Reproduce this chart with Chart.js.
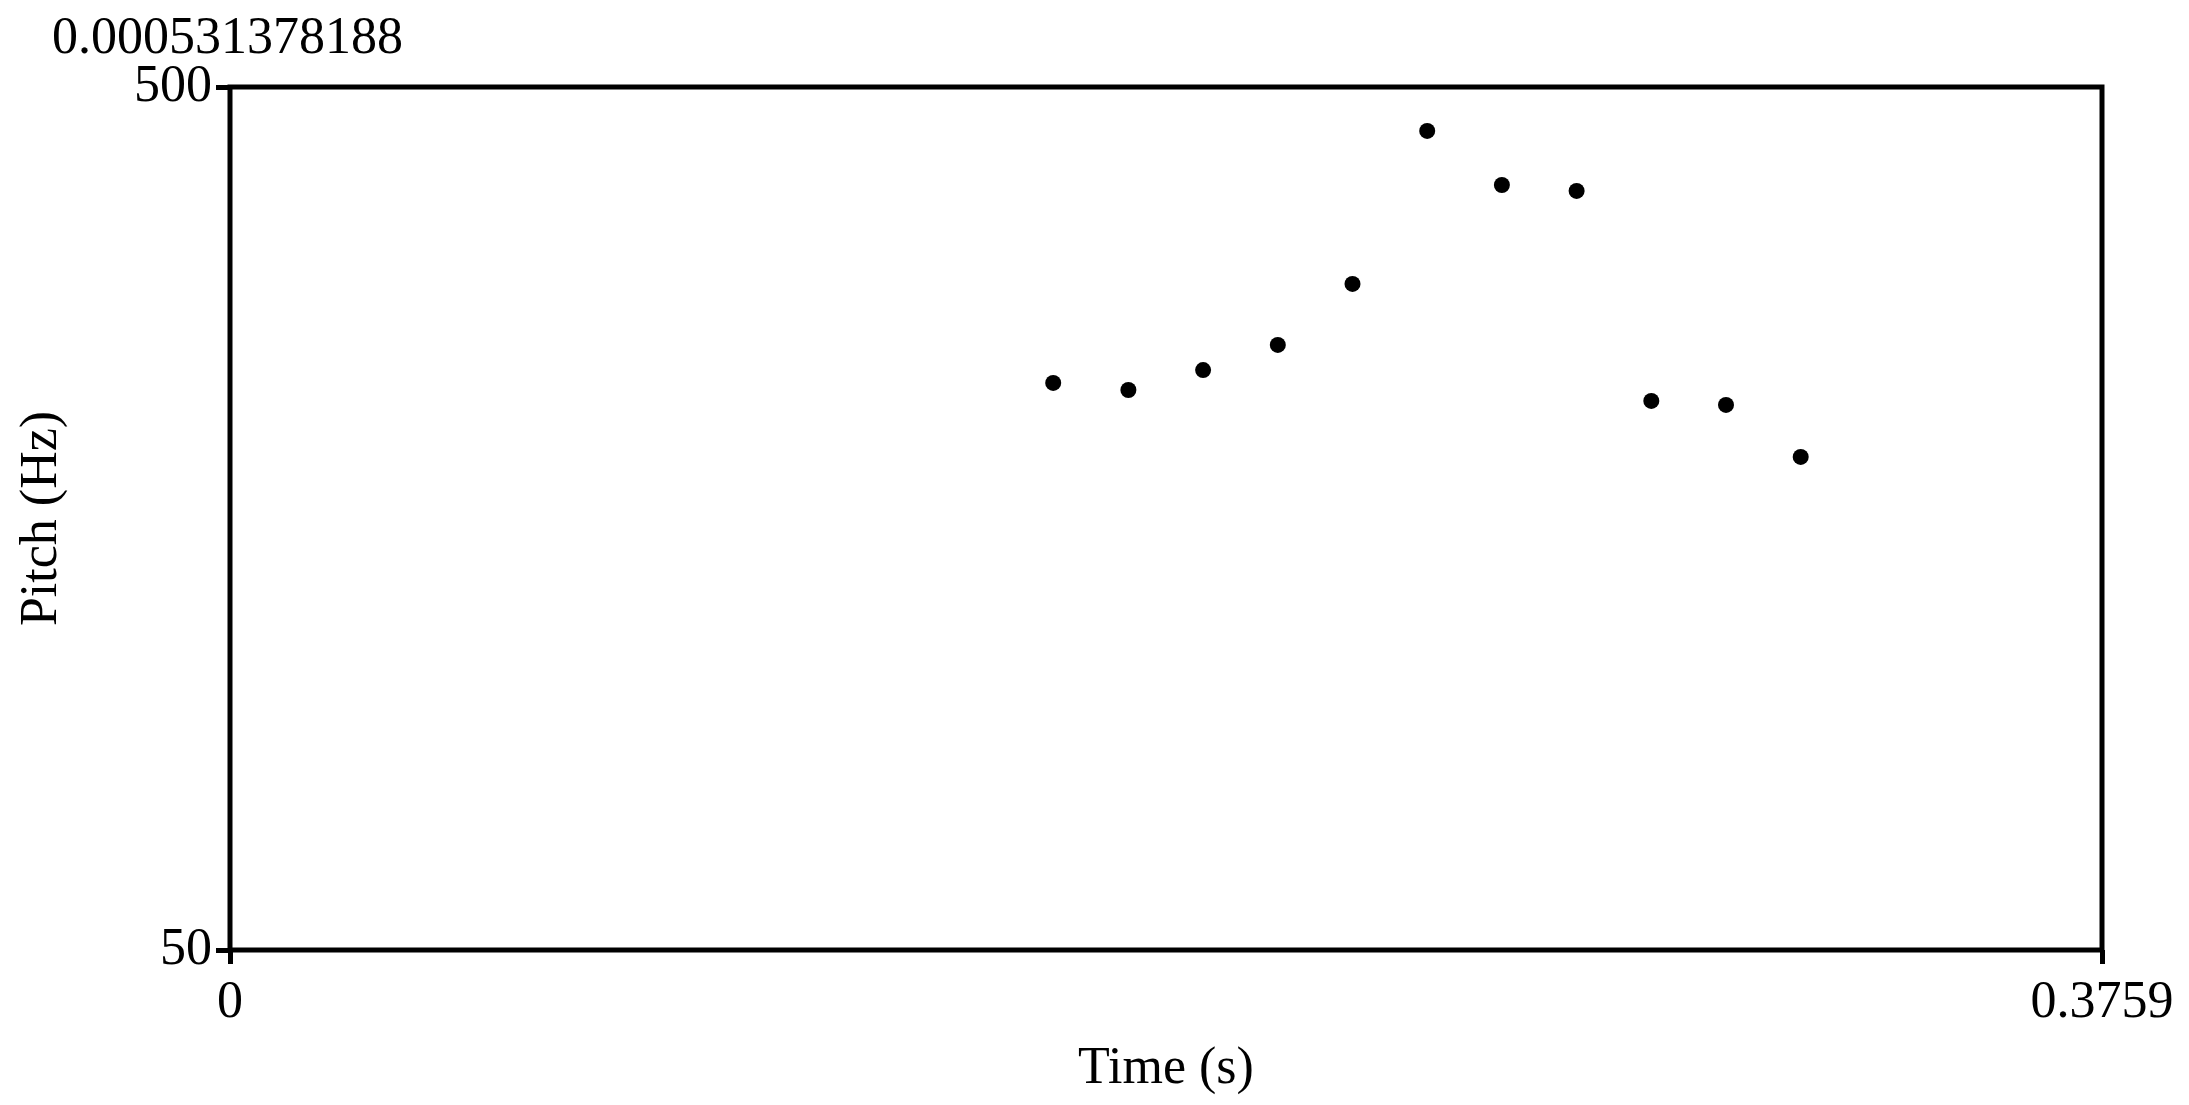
<!DOCTYPE html>
<html>
<head>
<meta charset="utf-8">
<script src="https://cdn.jsdelivr.net/npm/chart.js@4/dist/chart.umd.min.js"></script>
<style>
  html, body { margin: 0; padding: 0; background: #fff; }
  #wrap { width: 2189px; height: 1105px; }
</style>
</head>
<body>
<div id="wrap"><canvas id="pitchChart" width="2189" height="1105"></canvas></div>
<script>
// pitch track
const times = [0.1653, 0.1804, 0.1954, 0.2104, 0.2254, 0.2404, 0.2554, 0.2704, 0.2854, 0.3004, 0.3154];
const pitchHz = [345.7, 342.0, 352.4, 365.5, 397.3, 477.1, 448.9, 445.8, 336.3, 334.2, 307.1];
const xTicks = [0, 0.3759];
const yTicks = [50, 500];
const topLabel = "0.000531378188";

const FONT = "Liberation Serif";

const frame = {
    id: "frame",
    afterDraw(chart) {
        const { ctx, chartArea: a } = chart;
        ctx.save();
        ctx.strokeStyle = "#000";
        ctx.lineWidth = 5;
        ctx.strokeRect(a.left, a.top, a.right - a.left, a.bottom - a.top);
        ctx.fillStyle = "#000";
        ctx.font = "52px '" + FONT + "'";
        ctx.textBaseline = "alphabetic";
        ctx.textAlign = "left";
        ctx.fillText(topLabel, 52, 53);
        ctx.restore();
    }
};

new Chart(document.getElementById("pitchChart"), {
    type: "scatter",
    data: {
        datasets: [{
            data: times.map((t, i) => ({ x: t, y: pitchHz[i] })),
            pointStyle: "circle",
            pointRadius: 8,
            pointHoverRadius: 8,
            pointBackgroundColor: "#000",
            pointBorderWidth: 0
        }]
    },
    options: {
        responsive: false,
        animation: false,
        events: [],
        layout: { padding: { top: 87, right: 87, left: 0, bottom: 0 } },
        plugins: { legend: { display: false }, tooltip: { enabled: false } },
        scales: {
            x: {
                type: "linear",
                min: 0,
                max: 0.3759,
                afterFit(s) { s.height = 155; },
                afterBuildTicks(s) { s.ticks = xTicks.map(v => ({ value: v })); },
                grid: { drawOnChartArea: false, tickLength: 14, tickColor: "#000", tickWidth: 5 },
                border: { display: false },
                ticks: {
                    color: "#000",
                    font: { family: FONT, size: 52 },
                    padding: 8,
                    maxRotation: 0,
                    callback: v => String(v)
                },
                title: {
                    display: true,
                    text: "Time (s)",
                    color: "#000",
                    font: { family: FONT, size: 52 },
                    padding: { top: 2 }
                }
            },
            y: {
                type: "linear",
                min: 50,
                max: 500,
                afterFit(s) { s.width = 230; },
                afterBuildTicks(s) { s.ticks = yTicks.map(v => ({ value: v })); },
                grid: { drawOnChartArea: false, tickLength: 14, tickColor: "#000", tickWidth: 5 },
                border: { display: false },
                ticks: {
                    color: "#000",
                    font: { family: FONT, size: 52 },
                    padding: 4,
                    callback: v => String(v)
                },
                title: {
                    display: true,
                    text: "Pitch (Hz)",
                    color: "#000",
                    font: { family: FONT, size: 52 },
                    padding: { top: 11, bottom: 0 }
                }
            }
        }
    },
    plugins: [frame]
});
</script>
</body>
</html>
